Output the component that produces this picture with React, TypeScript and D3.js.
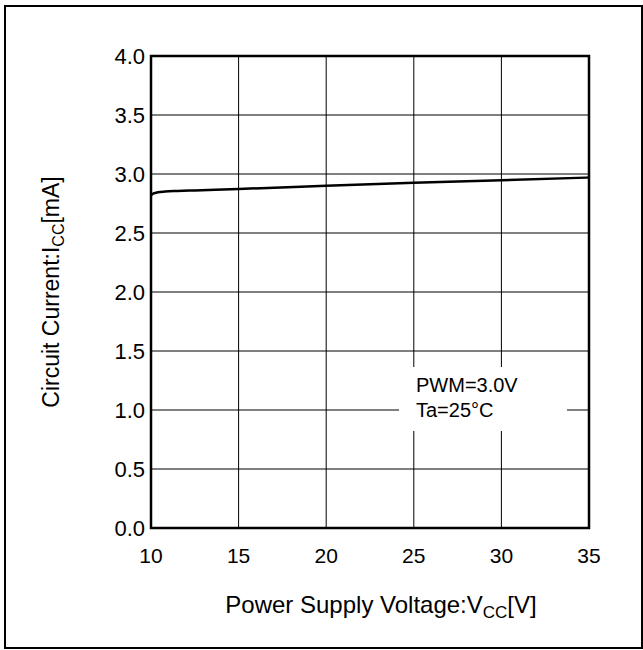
import * as React from 'react';
import * as d3 from 'd3';

// curve
const vcc = [10, 10.15, 10.4, 10.8, 11.5, 12.5, 15, 20, 25, 30, 35];
const icc = [2.82, 2.835, 2.845, 2.851, 2.856, 2.861, 2.873, 2.9, 2.925, 2.948, 2.97];

const xTicks = [10, 15, 20, 25, 30, 35];
const yTicks = [0, 0.5, 1.0, 1.5, 2.0, 2.5, 3.0, 3.5, 4.0];
const noteLines = ['PWM=3.0V', 'Ta=25°C'];

const font = 'Arial, "Liberation Sans", sans-serif';

export default function App() {
  const width = 643;
  const height = 650;
  const plot = { left: 151, right: 589, top: 56, bottom: 528 };

  const x = d3.scaleLinear().domain([10, 35]).range([plot.left, plot.right]);
  const y = d3.scaleLinear().domain([0, 4]).range([plot.bottom, plot.top]);

  const points = vcc.map((v, i) => [v, icc[i]] as [number, number]);
  const line = d3
    .line<[number, number]>()
    .x((d) => x(d[0]))
    .y((d) => y(d[1]))
    .curve(d3.curveMonotoneX);

  return (
    <svg
      width={width}
      height={height}
      style={{ position: 'absolute', left: 0, top: 0, background: '#fff' }}
      fontFamily={font}
    >
      <rect x={5} y={6} width={637} height={642} fill="#fff" stroke="#000" strokeWidth={2} />

      {/* grid */}
      {xTicks.slice(1, -1).map((t) => (
        <line key={'gx' + t} x1={x(t)} x2={x(t)} y1={plot.top} y2={plot.bottom} stroke="#000" strokeWidth={1} />
      ))}
      {yTicks.slice(1, -1).map((t) => (
        <line key={'gy' + t} x1={plot.left} x2={plot.right} y1={y(t)} y2={y(t)} stroke="#000" strokeWidth={1} />
      ))}

      {/* note box hides the grid behind it */}
      <rect x={399} y={367} width={168} height={64} fill="#fff" />
      {noteLines.map((s, i) => (
        <text key={s} x={416} y={392 + i * 25} fontSize={20} fill="#000">
          {s}
        </text>
      ))}

      <path d={line(points) ?? ''} fill="none" stroke="#000" strokeWidth={2.5} />

      <rect
        x={plot.left}
        y={plot.top}
        width={plot.right - plot.left}
        height={plot.bottom - plot.top}
        fill="none"
        stroke="#000"
        strokeWidth={2.5}
      />

      {/* tick labels */}
      {yTicks.map((t) => (
        <text key={'ty' + t} x={145} y={y(t)} dy="0.36em" textAnchor="end" fontSize={22}>
          {t.toFixed(1)}
        </text>
      ))}
      {xTicks.map((t) => (
        <text key={'tx' + t} x={x(t)} y={563} textAnchor="middle" fontSize={21}>
          {t}
        </text>
      ))}

      {/* axis titles */}
      <text x={381} y={613} textAnchor="middle" fontSize={24}>
        Power Supply Voltage:V<tspan fontSize={17} dy={5}>CC</tspan>
        <tspan dy={-5}>[V]</tspan>
      </text>
      <text transform={`translate(59, ${(plot.top + plot.bottom) / 2}) rotate(-90)`} textAnchor="middle" fontSize={23}>
        Circuit Current:I<tspan fontSize={16} dy={5}>CC</tspan>
        <tspan dy={-5}>[mA]</tspan>
      </text>
    </svg>
  );
}
